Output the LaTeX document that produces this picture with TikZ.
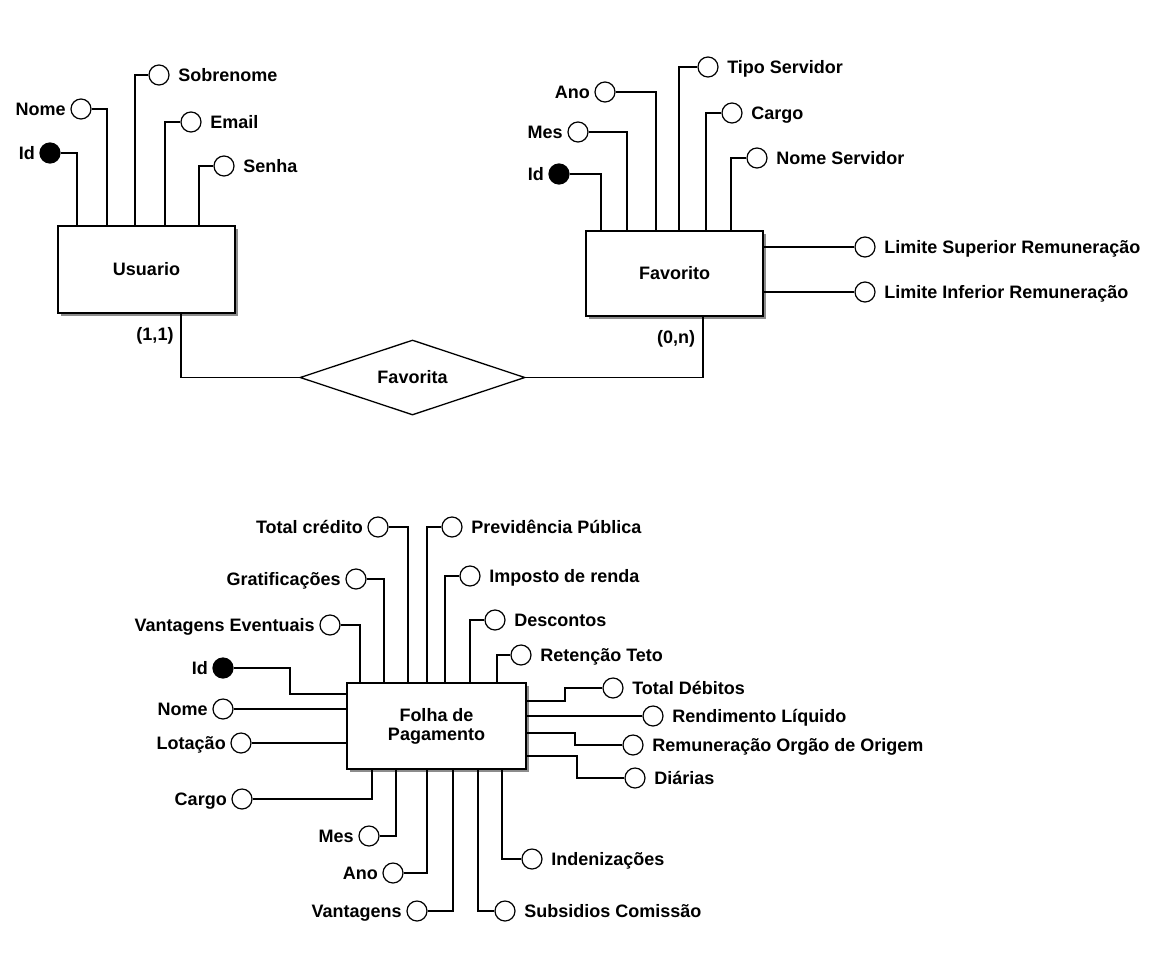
\documentclass[tikz,border=0pt]{standalone}
\usepackage{fontspec}
\setmainfont{Liberation Sans}
\usetikzlibrary{positioning,shapes.geometric,shadows}
\begin{document}
\begin{tikzpicture}[x=0.5pt,y=-0.5pt,
	font=\fontsize{9}{9.5}\selectfont\bfseries,
	line width=0.65pt,
	ent/.style={draw,line width=0.75pt,fill=white,inner sep=0pt,align=center,
		drop shadow={shadow xshift=1.5pt,shadow yshift=-1.5pt,fill=black!45,opacity=1}},
	rel/.style={draw,diamond,shape aspect=3,inner sep=0pt,minimum width=112.5pt,minimum height=37.5pt},
	att/.style={draw,circle,fill=white,line width=0.6pt,minimum size=10pt,inner sep=0pt},
	key/.style={att,fill=black},
	txt/.style={inner sep=0pt,text height=6.4pt,text depth=0pt}]
		\useasboundingbox (0,0) rectangle (1161,958);
		
		\node[ent,minimum width=88.5pt,minimum height=43.5pt] (U) at (146.5,269.5) {Usuario};
		\node[ent,minimum width=88.5pt,minimum height=42.5pt] (F) at (674.5,273.5) {Favorito};
		\node[ent,minimum width=89.5pt,minimum height=43pt] (P) at (436.5,726) {Folha de\\Pagamento};
		\node[rel] (R) at (412.5,377.5) {Favorita};
		
		\node[txt] (C1) at (155,334) {(1,1)};
		\node[txt] (C2) at (676,337) {(0,n)};
		
		\draw (181,0 |- U.south) |- (R.west);
		\draw (703,0 |- F.south) |- (R.east);
		
		\node[key] (U1) at (50,153) {};
		\node[att] (U2) at (81,109) {};
		\node[att] (U3) at (159,75) {};
		\node[att] (U4) at (191,122) {};
		\node[att] (U5) at (224,166) {};
		
		\node[txt,left=2pt of U1] (U1t) {Id};
		\node[txt,left=2pt of U2] (U2t) {Nome};
		\node[txt,right=4pt of U3] (U3t) {Sobrenome};
		\node[txt,right=4pt of U4] (U4t) {Email};
		\node[txt,right=4pt of U5] (U5t) {Senha};
		
		\draw (U1) -| (77,0 |- U.north);
		\draw (U2) -| (107,0 |- U.north);
		\draw (135,0 |- U.north) |- (U3);
		\draw (165,0 |- U.north) |- (U4);
		\draw (199,0 |- U.north) |- (U5);
		
		\node[key] (F1) at (559,174) {};
		\node[att] (F2) at (578,132) {};
		\node[att] (F3) at (605,92) {};
		\node[att] (F4) at (708,67) {};
		\node[att] (F5) at (732,113) {};
		\node[att] (F6) at (757,158) {};
		\node[att] (F7) at (865,247) {};
		\node[att] (F8) at (865,292) {};
		
		\node[txt,left=2pt of F1] (F1t) {Id};
		\node[txt,left=2pt of F2] (F2t) {Mes};
		\node[txt,left=2pt of F3] (F3t) {Ano};
		\node[txt,right=4pt of F4] (F4t) {Tipo Servidor};
		\node[txt,right=4pt of F5] (F5t) {Cargo};
		\node[txt,right=4pt of F6] (F6t) {Nome Servidor};
		\node[txt,right=4pt of F7] (F7t) {Limite Superior Remuneração};
		\node[txt,right=4pt of F8] (F8t) {Limite Inferior Remuneração};
		
		\draw (F1) -| (601,0 |- F.north);
		\draw (F2) -| (627,0 |- F.north);
		\draw (F3) -| (656,0 |- F.north);
		\draw (679,0 |- F.north) |- (F4);
		\draw (706,0 |- F.north) |- (F5);
		\draw (731,0 |- F.north) |- (F6);
		\draw (F7) -- (F7 -| F.east);
		\draw (F8) -- (F8 -| F.east);
		
		\node[key] (P1) at (223,668) {};
		\node[att] (P2) at (223,709) {};
		\node[att] (P3) at (241,743) {};
		\node[att] (P4) at (242,799) {};
		\node[att] (P5) at (369,836) {};
		\node[att] (P6) at (393,873) {};
		\node[att] (P7) at (417,911) {};
		\node[att] (P8) at (505,911) {};
		\node[att] (P9) at (532,859) {};
		\node[att] (P10) at (613,688) {};
		\node[att] (P11) at (653,716) {};
		\node[att] (P12) at (633,745) {};
		\node[att] (P13) at (635,778) {};
		\node[att] (P14) at (521,655) {};
		\node[att] (P15) at (495,620) {};
		\node[att] (P16) at (470,576) {};
		\node[att] (P17) at (452,527) {};
		\node[att] (P18) at (378,527) {};
		\node[att] (P19) at (356,579) {};
		\node[att] (P20) at (330,625) {};
		
		\node[txt,left=2pt of P1] (P1t) {Id};
		\node[txt,left=2pt of P2] (P2t) {Nome};
		\node[txt,left=2pt of P3] (P3t) {Lotação};
		\node[txt,left=2pt of P4] (P4t) {Cargo};
		\node[txt,left=2pt of P5] (P5t) {Mes};
		\node[txt,left=2pt of P6] (P6t) {Ano};
		\node[txt,left=2pt of P7] (P7t) {Vantagens};
		\node[txt,right=4pt of P8] (P8t) {Subsidios Comissão};
		\node[txt,right=4pt of P9] (P9t) {Indenizações};
		\node[txt,right=4pt of P10] (P10t) {Total Débitos};
		\node[txt,right=4pt of P11] (P11t) {Rendimento Líquido};
		\node[txt,right=4pt of P12] (P12t) {Remuneração Orgão de Origem};
		\node[txt,right=4pt of P13] (P13t) {Diárias};
		\node[txt,right=4pt of P14] (P14t) {Retenção Teto};
		\node[txt,right=4pt of P15] (P15t) {Descontos};
		\node[txt,right=4pt of P16] (P16t) {Imposto de renda};
		\node[txt,right=4pt of P17] (P17t) {Previdência Pública};
		\node[txt,left=2pt of P18] (P18t) {Total crédito};
		\node[txt,left=2pt of P19] (P19t) {Gratificações};
		\node[txt,left=2pt of P20] (P20t) {Vantagens Eventuais};
		
		\draw (P1) -| (290,694) -- (P.west |- 0,694);
		\draw (P2) -- (P2 -| P.west);
		\draw (P3) -- (P3 -| P.west);
		\draw (P4) -| (372,0 |- P.south);
		\draw (P5) -| (396,0 |- P.south);
		\draw (P6) -| (427,0 |- P.south);
		\draw (P7) -| (453,0 |- P.south);
		\draw (478,0 |- P.south) |- (P8);
		\draw (502,0 |- P.south) |- (P9);
		\draw (P.east |- 0,701) -| (565,688) -- (P10);
		\draw (P11) -- (P11 -| P.east);
		\draw (P.east |- 0,733) -| (575,745) -- (P12);
		\draw (P.east |- 0,756) -| (577,778) -- (P13);
		\draw (497,0 |- P.north) |- (P14);
		\draw (470,0 |- P.north) |- (P15);
		\draw (445,0 |- P.north) |- (P16);
		\draw (427,0 |- P.north) |- (P17);
		\draw (P18) -| (408,0 |- P.north);
		\draw (P19) -| (384,0 |- P.north);
		\draw (P20) -| (360,0 |- P.north);
\end{tikzpicture}
\end{document}
